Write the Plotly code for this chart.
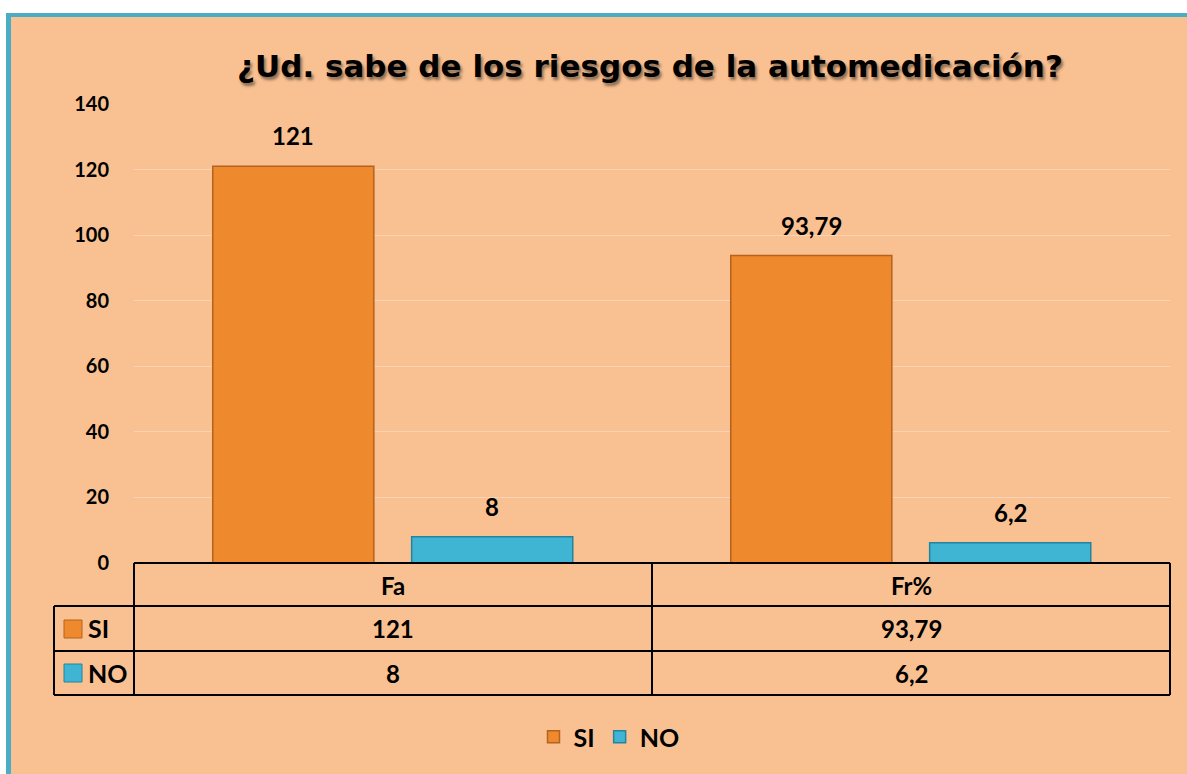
import plotly.graph_objects as go

# ---- data ----
categories = ["Fa", "Fr%"]
series_names = ["SI", "NO"]
si_values = [121, 93.79]
no_values = [8, 6.2]
title_text = "¿Ud. sabe de los riesgos de la automedicación?"
y_ticks = [0, 20, 40, 60, 80, 100, 120, 140]

# ---- layout constants (pixels) ----
W, H = 1187, 774
L, R, T, B = 134, 17, 104, 211
PW = W - L - R
PH = H - T - B

def px(x):
    return (x - L) / PW

def py(y):
    return (H - B - y) / PH

BG = "#F9C192"
TEAL = "#4BACC6"
ORANGE = "#EE8A2D"
ORANGE_LINE = "#B5621C"
CYAN = "#3FB4D3"
CYAN_LINE = "#24849F"
FONT = "Lato"

BAR_W = 0.311
OFFSETS = [-0.348, 0.036]
colors = [ORANGE, CYAN]
line_colors = [ORANGE_LINE, CYAN_LINE]
values = [si_values, no_values]

def fmt(v):
    s = ("%g" % v)
    return s.replace(".", ",")

fig = go.Figure()
for name, vals, off, c, lc in zip(series_names, values, OFFSETS, colors, line_colors):
    fig.add_trace(go.Bar(
        name=name, x=categories, y=vals,
        offset=off, width=BAR_W,
        marker=dict(color=c, line=dict(color=lc, width=1.5)),
        hoverinfo="x+y+name",
    ))

annotations = []
# data labels above bars
for vals, off in zip(values, OFFSETS):
    for i, v in enumerate(vals):
        annotations.append(dict(
            x=i + off + BAR_W / 2, y=v, xref="x", yref="y",
            text=fmt(v), showarrow=False, xanchor="center", yanchor="bottom", yshift=14,
            font=dict(family=FONT, size=24, color="black", weight="bold"),
        ))

# table header and cells
row_y = [py(585), py(628), py(673)]
for i, cat in enumerate(categories):
    annotations.append(dict(x=i, y=row_y[0], xref="x", yref="paper", text=cat,
                            xanchor="center", yanchor="middle",
                            showarrow=False, font=dict(family=FONT, size=24, color="black", weight="bold")))
    for r, vals in enumerate(values):
        annotations.append(dict(x=i, y=row_y[r + 1], xref="x", yref="paper", text=fmt(vals[i]),
                                xanchor="center", yanchor="middle",
                                showarrow=False, font=dict(family=FONT, size=24, color="black", weight="bold")))
# row labels
for r, name in enumerate(series_names):
    annotations.append(dict(x=px(86), y=row_y[r + 1], xref="paper", yref="paper", text=name,
                            xanchor="left", yanchor="middle", showarrow=False,
                            font=dict(family=FONT, size=25, color="black", weight="bold")))

shapes = []
# background frame
shapes.append(dict(type="rect", xref="paper", yref="paper", x0=px(-5), x1=px(W + 5), y0=py(-5), y1=py(13),
                   fillcolor="white", line=dict(width=0), layer="below"))
shapes.append(dict(type="rect", xref="paper", yref="paper", x0=px(-5), x1=px(6), y0=py(H + 5), y1=py(-5),
                   fillcolor="white", line=dict(width=0), layer="below"))
shapes.append(dict(type="rect", xref="paper", yref="paper", x0=px(6), x1=px(W + 5), y0=py(17), y1=py(13),
                   fillcolor=TEAL, line=dict(width=0), layer="below"))
shapes.append(dict(type="rect", xref="paper", yref="paper", x0=px(6), x1=px(11), y0=py(H + 5), y1=py(13),
                   fillcolor=TEAL, line=dict(width=0), layer="below"))

# table lines
line = dict(color="black", width=2)
def hline(x0, x1, y):
    shapes.append(dict(type="line", xref="paper", yref="paper", x0=px(x0), x1=px(x1), y0=py(y), y1=py(y), line=line))
def vline(x, y0, y1):
    shapes.append(dict(type="line", xref="paper", yref="paper", x0=px(x), x1=px(x), y0=py(y0), y1=py(y1), line=line))

hline(134, 1170, 563)
hline(54, 1170, 606)
hline(54, 1170, 651)
hline(54, 1170, 695)
vline(54, 606, 695)
vline(134, 563, 695)
vline(652, 563, 695)
vline(1170, 563, 695)

# legend icons in table
for r, (c, lc) in enumerate(zip(colors, line_colors)):
    cy = [629, 673][r]
    shapes.append(dict(type="rect", xref="paper", yref="paper", x0=px(64), x1=px(82), y0=py(cy + 9), y1=py(cy - 9),
                       fillcolor=c, line=dict(color=lc, width=1)))

fig.update_layout(
    width=W, height=H,
    margin=dict(l=L, r=R, t=T, b=B),
    paper_bgcolor=BG, plot_bgcolor="rgba(0,0,0,0)",
    separators=",.",
    barmode="overlay",
    title=dict(text=title_text, x=650 / W, xanchor="center", xref="container",
               y=1 - 66 / H, yanchor="middle", yref="container",
               font=dict(family="DejaVu Sans", size=31, color="black", weight="bold",
                         shadow="2px 3px 3px rgba(0,0,0,0.45)")),
    xaxis=dict(showticklabels=False, showgrid=False, zeroline=False, showline=False,
               range=[-0.5, 1.5], fixedrange=True),
    yaxis=dict(range=[0, 140], tickvals=y_ticks, showgrid=True, gridcolor="rgba(255,255,255,0.3)",
               gridwidth=1, zeroline=False, showline=False, ticklabelstandoff=24,
               tickfont=dict(family=FONT, size=20, color="black", weight="bold"), fixedrange=True),
    legend=dict(orientation="h", xref="container", yref="container", x=609 / W, xanchor="center",
                y=1 - 737 / H, yanchor="middle",
                font=dict(family=FONT, size=25, color="black", weight="bold"),
                bgcolor="rgba(0,0,0,0)", itemwidth=30),
    annotations=annotations,
    shapes=shapes,
    showlegend=True,
)

fig.write_html("out.html", config={"displayModeBar": False},
               post_script="document.body.style.margin='0';document.body.style.padding='0';")
